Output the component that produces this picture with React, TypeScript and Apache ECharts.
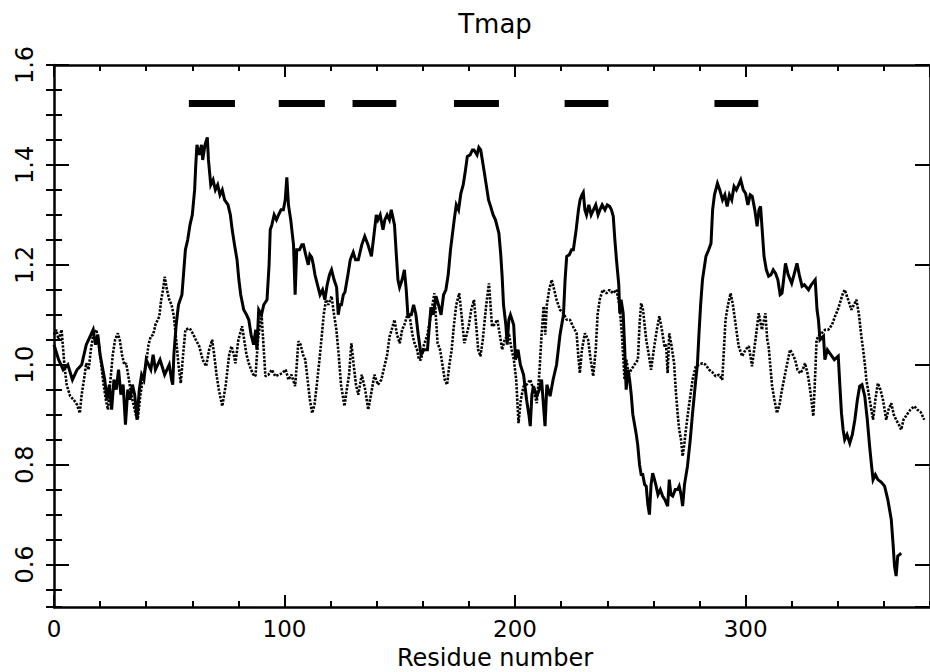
import React, { useEffect, useRef } from "react";
import * as echarts from "echarts";

const titleText = "Tmap";
const xAxisTitle = "Residue number";
const xMin = 0;
const xMax = 380;
const yMin = 0.515;
const yMax = 1.6;

// solid profile: [residue, value]
const solidProfile: [number, number][] = [
  [0, 1.04], [2, 1.01], [4, 0.99], [6, 1.0], [8, 0.97], [10, 0.99], [12, 1.0], [14, 1.04], [16, 1.06], [17, 1.07],
  [18, 1.04], [19, 1.06], [20, 1.02], [22, 0.97], [23, 0.93], [24, 0.96], [25, 0.91], [26, 0.97], [27, 0.95], [28, 0.99],
  [29, 0.94], [30, 0.96], [31, 0.88], [32, 0.95], [33, 0.93], [34, 0.96], [35, 0.94], [36, 0.89], [37, 0.95], [38, 0.98],
  [39, 0.97], [40, 1.01], [42, 0.99], [43, 1.02], [44, 0.99], [46, 1.01], [48, 0.98], [50, 1.0], [51, 0.97], [51.5, 0.96],
  [52, 1.02], [53, 1.08], [54, 1.12], [55.5, 1.14], [57, 1.23], [58, 1.25], [59, 1.28], [60, 1.3], [61, 1.35], [61.5, 1.4],
  [62, 1.44], [63, 1.42], [64, 1.44], [64.5, 1.41], [65.5, 1.44], [66.5, 1.455], [67, 1.41], [68, 1.36], [69, 1.37], [70, 1.35],
  [71, 1.36], [72, 1.34], [73, 1.35], [74, 1.33], [75.5, 1.32], [76.5, 1.3], [77.3, 1.27], [78.3, 1.24], [79.4, 1.21], [80.2, 1.17],
  [81, 1.14], [82.3, 1.11], [83.5, 1.1], [84.5, 1.09], [85.5, 1.06], [86.6, 1.04], [87.5, 1.07], [88, 1.03], [88.8, 1.11], [90, 1.1],
  [91, 1.12], [92.4, 1.13], [93.3, 1.2], [93.8, 1.27], [94.5, 1.28], [95.5, 1.3], [96.5, 1.29], [97.4, 1.3], [98.5, 1.31], [99.5, 1.31],
  [100.3, 1.33], [101, 1.375], [101.7, 1.32], [102.7, 1.29], [103.9, 1.24], [104.6, 1.14], [105.3, 1.23], [106.5, 1.23], [107.5, 1.24], [108.2, 1.24],
  [109.2, 1.22], [110.3, 1.2], [111, 1.22], [111.8, 1.215], [112.5, 1.2], [113.2, 1.18], [114.3, 1.16], [115.4, 1.14], [116.5, 1.15], [117.5, 1.13],
  [118.5, 1.16], [119.5, 1.18], [120.4, 1.19], [121.5, 1.17], [122.6, 1.155], [123.3, 1.1], [124, 1.12], [124.7, 1.12], [125.5, 1.14], [126.2, 1.145],
  [127.5, 1.18], [128.5, 1.21], [129.8, 1.225], [130.8, 1.21], [132, 1.21], [133.5, 1.24], [134.8, 1.257], [136.2, 1.24], [137.7, 1.217], [138.8, 1.26],
  [139.8, 1.3], [140.5, 1.29], [141.5, 1.3], [142.7, 1.27], [143.5, 1.29], [144.5, 1.3], [145.5, 1.29], [146.3, 1.31], [147.7, 1.28], [148.5, 1.22],
  [149.2, 1.17], [149.9, 1.155], [151, 1.17], [152, 1.19], [152.8, 1.15], [153.5, 1.1], [155, 1.1], [156, 1.12], [157, 1.1], [158, 1.06],
  [159.2, 1.02], [160.5, 1.03], [162, 1.03], [163.5, 1.115], [164.5, 1.1], [165.7, 1.137], [166.8, 1.12], [167.9, 1.1], [169, 1.14], [170, 1.15],
  [171, 1.18], [172, 1.23], [173.6, 1.29], [174.5, 1.32], [175.5, 1.31], [176.5, 1.343], [177.5, 1.36], [178.5, 1.39], [179.3, 1.417], [180.5, 1.42],
  [181.5, 1.43], [182.2, 1.43], [183.5, 1.42], [184.3, 1.435], [185.1, 1.43], [186.5, 1.39], [187.5, 1.36], [188.5, 1.33], [189.4, 1.317], [190.5, 1.3],
  [191.5, 1.29], [193, 1.263], [193.8, 1.22], [194.4, 1.177], [195, 1.12], [196, 1.08], [196.6, 1.04], [197.3, 1.09], [198, 1.1], [199.4, 1.08],
  [200.2, 1.01], [201.3, 1.03], [202.3, 1.0], [203.7, 0.98], [205, 0.93], [206, 0.9], [206.6, 0.877], [207.3, 0.94], [208, 0.957], [209.4, 0.937],
  [210.5, 0.95], [211.5, 0.97], [212.3, 0.92], [213, 0.877], [213.8, 0.96], [215.2, 0.937], [216.5, 0.97], [218, 1.0], [219.5, 1.06], [221, 1.1],
  [221.7, 1.17], [222.4, 1.217], [223.5, 1.22], [224.5, 1.23], [225.3, 1.23], [226.5, 1.27], [227.5, 1.31], [228.2, 1.33], [229, 1.34], [229.6, 1.345],
  [230.3, 1.31], [231, 1.3], [232, 1.32], [233, 1.3], [234, 1.31], [235, 1.32], [236, 1.3], [236.8, 1.31], [237.8, 1.32], [239, 1.31],
  [240, 1.32], [241, 1.317], [241.8, 1.31], [242.6, 1.297], [243.3, 1.25], [244, 1.21], [245, 1.16], [245.4, 1.103], [246, 1.13], [246.9, 1.103],
  [247.5, 1.04], [248.2, 0.95], [249, 0.99], [249.7, 0.97], [250.4, 0.94], [251.1, 0.9], [252.5, 0.863], [253.2, 0.84], [254, 0.8], [254.7, 0.78],
  [255.4, 0.78], [256.2, 0.76], [256.9, 0.757], [257.6, 0.72], [258.3, 0.7], [259, 0.76], [259.7, 0.783], [260.5, 0.77], [261.2, 0.757], [262, 0.74],
  [263, 0.75], [264, 0.737], [265, 0.73], [266.2, 0.717], [266.9, 0.77], [267.6, 0.74], [268.4, 0.737], [269.5, 0.75], [270.5, 0.75], [271.2, 0.757],
  [272, 0.74], [272.7, 0.717], [273.5, 0.76], [274.8, 0.797], [276, 0.85], [277, 0.903], [278.4, 0.97], [279.1, 1.0], [279.8, 1.063], [280.5, 1.12],
  [281.3, 1.17], [282.8, 1.217], [284, 1.23], [285, 1.243], [285.7, 1.31], [286.5, 1.34], [287.8, 1.363], [288.8, 1.35], [290, 1.33], [291, 1.34],
  [292, 1.317], [293, 1.34], [294, 1.33], [295, 1.357], [296, 1.35], [297, 1.36], [297.9, 1.37], [299, 1.35], [300, 1.343], [301, 1.32],
  [302, 1.34], [302.9, 1.337], [304, 1.31], [305, 1.277], [305.8, 1.31], [306.5, 1.317], [307.2, 1.27], [308, 1.217], [309, 1.19], [310, 1.177],
  [311, 1.18], [312, 1.19], [313, 1.183], [314, 1.17], [315, 1.14], [315.8, 1.143], [316.5, 1.17], [317.3, 1.203], [318.5, 1.18], [320, 1.163],
  [321, 1.18], [322.3, 1.203], [323.3, 1.18], [324.5, 1.157], [325.5, 1.16], [327.3, 1.15], [328.5, 1.16], [330.2, 1.17], [331, 1.11], [331.6, 1.09],
  [332.3, 1.05], [333.8, 1.057], [334.4, 1.01], [335.5, 1.03], [337, 1.02], [338.5, 1.01], [340.2, 1.017], [341, 0.95], [341.6, 0.903], [342.3, 0.87],
  [343, 0.85], [344, 0.86], [345.2, 0.843], [346.3, 0.86], [347.4, 0.89], [348.5, 0.93], [349.5, 0.957], [350.5, 0.96], [351.7, 0.937], [352.8, 0.89],
  [353.8, 0.837], [354.6, 0.8], [355.3, 0.77], [356.3, 0.78], [357.4, 0.77], [358.8, 0.765], [360.3, 0.757], [361.7, 0.73], [363.2, 0.69], [364, 0.64],
  [364.6, 0.597], [365.3, 0.577], [366, 0.617], [366.8, 0.62], [367.5, 0.623],
];

// dotted profile: [residue, value]
const dottedProfile: [number, number][] = [
  [0, 1.06], [1, 1.07], [2, 1.05], [3.3, 1.07], [4.5, 1.0], [5.5, 0.96], [7, 0.937], [8.5, 0.93], [10, 0.92], [11.2, 0.903],
  [12, 0.94], [13, 0.97], [14, 1.003], [15, 0.99], [16, 1.03], [17, 1.06], [18.4, 1.07], [19.5, 1.04], [20.5, 1.0], [21.5, 0.96],
  [22.5, 0.93], [23.4, 0.91], [24.5, 0.97], [25.5, 1.02], [26.5, 1.05], [27.7, 1.063], [28.5, 1.05], [29.5, 1.02], [30.5, 1.0], [31.3, 1.003],
  [32.5, 0.97], [33.5, 0.94], [34.5, 0.92], [35.5, 0.9], [36.3, 0.89], [37.5, 0.94], [38.5, 0.97], [40, 1.003], [41, 1.04], [42, 1.057],
  [43, 1.06], [44, 1.08], [45.7, 1.097], [46.5, 1.13], [47.3, 1.15], [48, 1.176], [49, 1.15], [50, 1.13], [51, 1.12], [52, 1.097],
  [53, 1.05], [54, 1.0], [55, 0.963], [56, 1.02], [57, 1.07], [58.6, 1.073], [59.3, 1.07], [60.5, 1.06], [61.5, 1.05], [63, 1.037],
  [64.5, 1.01], [66, 0.997], [67.3, 1.03], [68.6, 1.05], [69.5, 1.02], [70.5, 0.98], [71.5, 0.95], [73, 0.917], [74.5, 0.96], [76, 1.02],
  [77, 1.037], [78, 1.02], [78.7, 1.003], [80, 1.05], [81.6, 1.077], [82.5, 1.05], [83.5, 1.02], [84.5, 1.003], [85.5, 0.99], [86.5, 0.98],
  [87.4, 0.977], [88.5, 1.05], [90, 1.103], [91, 1.03], [91.7, 0.977], [93, 0.98], [94.5, 0.99], [96, 0.977], [97.5, 0.98], [99, 0.983],
  [100.5, 0.99], [101.7, 0.97], [103, 0.98], [104.6, 0.957], [105.3, 1.0], [106, 1.047], [107, 1.04], [108, 1.02], [109, 1.01], [110, 0.97],
  [111, 0.93], [112, 0.903], [113, 0.92], [114, 0.96], [115, 1.003], [116, 1.05], [117, 1.1], [118, 1.13], [119, 1.12], [120.4, 1.137],
  [121.5, 1.1], [122.5, 1.07], [123.5, 1.02], [124.5, 0.96], [126, 0.917], [127, 0.95], [128, 0.98], [129, 1.043], [130, 1.0], [131, 0.96],
  [132, 0.94], [133.5, 0.98], [135, 0.95], [136.3, 0.91], [137.5, 0.94], [139, 0.98], [140.5, 0.96], [142, 0.97], [143.5, 1.0], [144.5, 1.02],
  [145.6, 1.057], [146.5, 1.07], [147.7, 1.09], [148.8, 1.06], [150, 1.043], [151, 1.07], [152, 1.08], [153.5, 1.103], [154.5, 1.09], [155.5, 1.06],
  [156.4, 1.043], [157.5, 1.03], [158.3, 1.01], [159.2, 1.01], [160.5, 1.04], [162, 1.06], [163.5, 1.1], [165, 1.143], [166.4, 1.043], [167.5, 1.03],
  [168.5, 1.0], [169.5, 0.97], [170.5, 0.96], [171.5, 1.0], [172.5, 1.03], [173.5, 1.08], [174.5, 1.12], [175.8, 1.143], [177, 1.09], [178, 1.043],
  [179, 1.06], [180, 1.08], [181, 1.11], [182.2, 1.13], [183.3, 1.07], [184, 1.03], [185, 1.017], [186, 1.05], [187.5, 1.12], [188.7, 1.163],
  [190, 1.077], [191, 1.08], [192.3, 1.09], [193.4, 1.06], [194.4, 1.03], [195.5, 1.05], [197.3, 1.063], [198.5, 1.03], [199.5, 1.01], [200.5, 0.97],
  [201.5, 0.883], [202.5, 0.93], [203.7, 0.957], [205, 0.96], [206.6, 0.97], [208, 0.95], [209.4, 0.923], [210.5, 0.98], [211.5, 1.06], [212.4, 1.117],
  [213.1, 1.06], [213.8, 1.12], [214.8, 1.15], [215.9, 1.17], [217, 1.15], [218, 1.13], [219.5, 1.11], [221, 1.103], [222.4, 1.09], [223.8, 1.09],
  [225.3, 1.075], [226.7, 1.063], [227.4, 1.02], [228.1, 0.983], [229, 1.03], [230.3, 1.063], [231.7, 1.05], [232.8, 1.01], [233.9, 0.977], [235, 1.03],
  [235.8, 1.1], [236.7, 1.13], [238, 1.15], [239.6, 1.143], [241, 1.15], [242.5, 1.143], [244, 1.15], [245.4, 1.117], [246.5, 1.05], [247.5, 0.97],
  [248.3, 1.01], [249.3, 0.98], [250.4, 0.99], [251.8, 1.0], [253.3, 1.01], [254, 1.08], [254.7, 1.123], [255.5, 1.11], [256.9, 1.05], [258, 1.02],
  [259, 0.99], [260.4, 1.037], [261.5, 1.07], [262.6, 1.097], [263.7, 1.07], [264.8, 1.037], [265.5, 1.04], [266.2, 0.983], [266.9, 1.063], [267.8, 1.04],
  [269, 1.003], [269.7, 0.95], [270.5, 0.903], [271.2, 0.87], [272, 0.85], [272.7, 0.817], [273.4, 0.84], [274.1, 0.87], [275.5, 0.92], [277, 0.97],
  [278.4, 0.997], [279.8, 1.0], [281.3, 1.003], [282.7, 1.0], [284.2, 0.99], [285.6, 0.985], [287, 0.977], [288.5, 0.98], [289.9, 0.97], [290.6, 1.03],
  [291.3, 1.09], [292.4, 1.12], [293.5, 1.143], [294.5, 1.12], [295.6, 1.083], [297, 1.037], [298.5, 1.017], [300, 1.03], [301.4, 1.037], [302.8, 0.997],
  [304.3, 1.05], [305.7, 1.103], [307.1, 1.07], [308.6, 1.103], [309.4, 1.05], [310, 1.037], [311.5, 0.957], [312.5, 0.93], [313.6, 0.903], [314.7, 0.92],
  [315.8, 0.95], [317.5, 0.99], [319.3, 1.03], [320.5, 1.02], [321.5, 1.01], [322.5, 0.99], [323.7, 0.983], [324.8, 0.99], [325.8, 1.003], [327, 0.98],
  [328, 0.95], [329.4, 0.897], [330.2, 0.98], [330.8, 1.05], [332, 1.06], [333, 1.063], [334.5, 1.07], [335.9, 1.07], [337.5, 1.08], [338.8, 1.097],
  [340, 1.11], [340.9, 1.123], [342, 1.14], [343, 1.15], [344.5, 1.13], [345.9, 1.11], [347, 1.12], [348.1, 1.13], [349.2, 1.1], [350.2, 1.057],
  [351, 1.03], [351.7, 1.003], [352.4, 0.97], [353.1, 0.95], [354.2, 0.92], [355.3, 0.89], [356.3, 0.93], [357.4, 0.963], [358.5, 0.95], [359.6, 0.93],
  [361, 0.89], [362, 0.91], [363.2, 0.923], [364.3, 0.9], [365.3, 0.89], [366.5, 0.88], [367.5, 0.87], [368.5, 0.89], [370.4, 0.903], [371.5, 0.91],
  [373.2, 0.917], [374.5, 0.91], [376, 0.905], [377.5, 0.89],
];

// helix bars
const helixStart = [58.5, 97.5, 129.5, 173.5, 221.5, 286.5];
const helixEnd = [78.5, 117.5, 148.5, 193, 240.5, 305.5];
const helixLevel = 1.524;

const FONT = "DejaVu Sans";

export default function App() {
  const ref = useRef<HTMLDivElement>(null);
  useEffect(() => {
    if (!ref.current) return;
    const chart = echarts.init(ref.current, undefined, { renderer: "svg" });
    const gridLeft = 54;
    const gridTop = 65;
    const gridWidth = 882;
    const gridHeight = 542;
    const axisLineStyle = { color: "#000", width: 2.5 };
    const baseX = {
      type: "value" as const,
      min: xMin,
      max: xMax,
      splitLine: { show: false },
      axisLine: { show: true, onZero: false, lineStyle: axisLineStyle },
    };
    const baseY = {
      type: "value" as const,
      min: yMin,
      max: yMax,
      splitLine: { show: false },
      axisLine: { show: true, onZero: false, lineStyle: axisLineStyle },
    };
    const helixData = helixStart.map((s, i) => ({
      coords: [
        [s, helixLevel],
        [helixEnd[i], helixLevel],
      ],
    }));
    chart.setOption({
      animation: false,
      backgroundColor: "#fff",
      grid: { left: gridLeft, top: gridTop, width: gridWidth, height: gridHeight, show: false },
      xAxis: [
        {
          ...baseX,
          position: "bottom",
          interval: 100,
          axisTick: { show: true, inside: true, length: 12, lineStyle: { color: "#000", width: 2 } },
          axisLabel: {
            show: true,
            margin: 10,
            color: "#000",
            fontFamily: FONT,
            fontSize: 23,
            lineHeight: 24,
            showMaxLabel: false,
            formatter: (v: number) => (v % 100 === 0 ? String(v) : ""),
          },
        },
        {
          ...baseX,
          position: "bottom",
          interval: 20,
          axisLine: { show: false },
          axisTick: { show: true, inside: true, length: 6, lineStyle: { color: "#000", width: 2 } },
          axisLabel: { show: false },
        },
        {
          ...baseX,
          position: "top",
          interval: 100,
          axisTick: { show: true, inside: true, length: 12, lineStyle: { color: "#000", width: 2 } },
          axisLabel: { show: false },
        },
        {
          ...baseX,
          position: "top",
          interval: 20,
          axisLine: { show: false },
          axisTick: { show: true, inside: true, length: 6, lineStyle: { color: "#000", width: 2 } },
          axisLabel: { show: false },
        },
      ],
      yAxis: [
        {
          ...baseY,
          position: "left",
          splitNumber: 5,
          axisTick: { show: true, inside: true, length: 15, lineStyle: { color: "#000", width: 2 } },
          axisLabel: {
            show: true,
            rotate: 90,
            margin: 17,
            color: "#000",
            fontFamily: FONT,
            fontSize: 24,
            showMinLabel: false,
            formatter: (v: number) => (Math.abs(v * 5 - Math.round(v * 5)) < 1e-6 ? v.toFixed(1) : ""),
          },
        },
        {
          ...baseY,
          position: "left",
          splitNumber: 20,
          axisLine: { show: false },
          axisTick: { show: true, inside: true, length: 8, lineStyle: { color: "#000", width: 2 } },
          axisLabel: { show: false },
        },
        {
          ...baseY,
          position: "right",
          splitNumber: 5,
          axisTick: { show: true, inside: true, length: 15, lineStyle: { color: "#000", width: 2 } },
          axisLabel: { show: false },
        },
        {
          ...baseY,
          position: "right",
          splitNumber: 20,
          axisLine: { show: false },
          axisTick: { show: true, inside: true, length: 8, lineStyle: { color: "#000", width: 2 } },
          axisLabel: { show: false },
        },
      ],
      graphic: [
        {
          type: "text",
          x: 495,
          y: 24,
          style: {
            text: titleText,
            fill: "#000",
            font: `26px "${FONT}"`,
            textAlign: "center",
            textVerticalAlign: "middle",
          },
        },
        {
          type: "text",
          x: 495,
          y: 670,
          style: {
            text: xAxisTitle,
            fill: "#000",
            font: `24px "${FONT}"`,
            lineHeight: 25,
            textAlign: "center",
            textVerticalAlign: "bottom",
          },
        },
      ],
      series: [
        {
          type: "line",
          xAxisIndex: 0,
          yAxisIndex: 0,
          data: dottedProfile,
          showSymbol: false,
          symbol: "none",
          lineStyle: { color: "#000", width: 2.6, type: [2.4, 1.4] },
          z: 2,
        },
        {
          type: "line",
          xAxisIndex: 0,
          yAxisIndex: 0,
          data: solidProfile,
          showSymbol: false,
          symbol: "none",
          lineStyle: { color: "#000", width: 3, join: "miter" },
          z: 3,
        },
        {
          type: "lines",
          coordinateSystem: "cartesian2d",
          xAxisIndex: 0,
          yAxisIndex: 0,
          data: helixData,
          lineStyle: { color: "#000", width: 7, opacity: 1, cap: "butt" },
          z: 4,
        },
      ],
    });
    return () => chart.dispose();
  }, []);
  return (
    <div
      ref={ref}
      style={{ position: "fixed", left: 0, top: 0, width: 930, height: 672, background: "#fff" }}
    />
  );
}
